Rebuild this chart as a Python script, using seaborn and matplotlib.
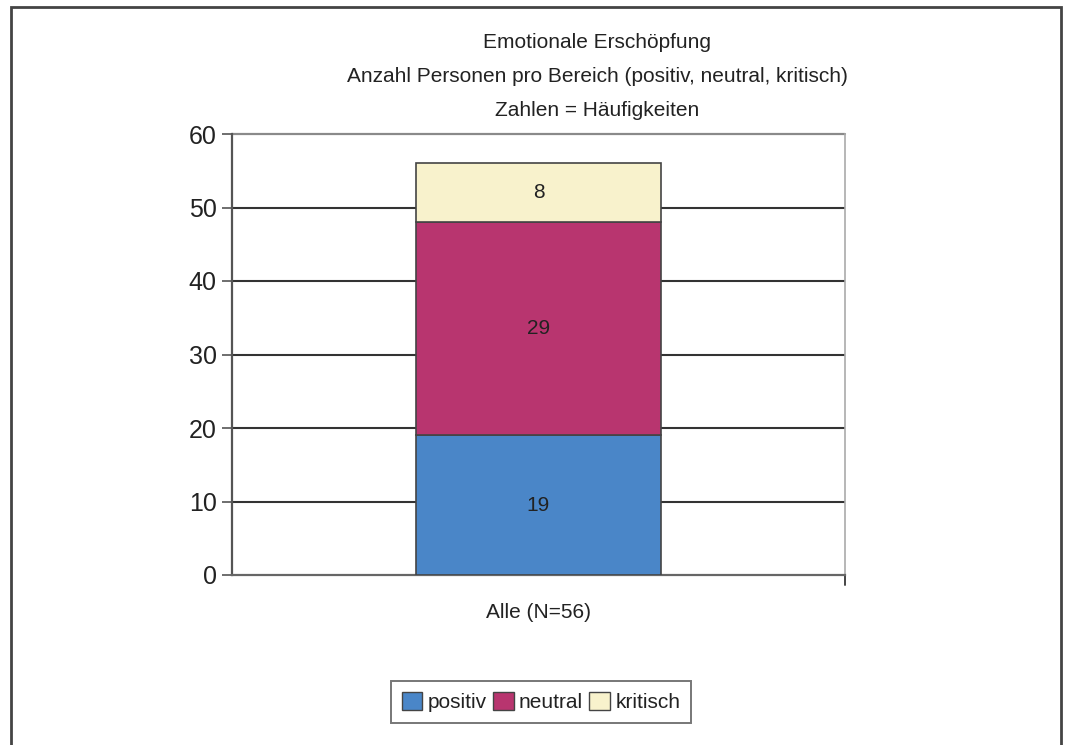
import matplotlib
matplotlib.use("Agg")
import matplotlib.pyplot as plt
import seaborn as sns
import pandas as pd
from matplotlib.patches import Rectangle, Patch

categories = ["Alle (N=56)"]
series = ["positiv", "neutral", "kritisch"]
positiv = [19]
neutral = [29]
kritisch = [8]
colors = ["#4a86c8", "#b8356f", "#f8f2cc"]
title_lines = ["Emotionale Erschöpfung",
               "Anzahl Personen pro Bereich (positiv, neutral, kritisch)",
               "Zahlen = Häufigkeiten"]

sns.set_theme(style="white")
plt.rcParams['font.family'] = ['Liberation Sans', 'DejaVu Sans']

fig = plt.figure(figsize=(10.68, 7.45), dpi=100)
ax = fig.add_axes([232/1068, 1-575/745, (845-232)/1068, (575-134)/745])

values = [positiv, neutral, kritisch]
bottom = [0]*len(categories)
for name, vals, col in zip(series, values, colors):
    bars = ax.bar(categories, vals, bottom=bottom, width=0.4, color=col,
                  edgecolor="#444444", linewidth=1.2, zorder=3, label=name)
    for b, v, r in zip(bottom, vals, bars):
        ax.text(r.get_x() + r.get_width()/2, b + v/2, str(v), ha="center", va="center",
                fontsize=15, color="#222222", zorder=4)
    bottom = [b + v for b, v in zip(bottom, vals)]

sns.despine(ax=ax, top=True, right=False)
ax.set_xlim(-0.5, 0.5)
ax.set_ylim(0, 60)
ax.set_yticks(range(0, 61, 10))
ax.yaxis.grid(False)
for yv in range(10, 60, 10):
    ax.axhline(yv, color="#333333", linewidth=1.5, zorder=1)
ax.axhline(60, color="#8a8a8a", linewidth=1.6, zorder=1, clip_on=False)
ax.tick_params(axis="y", which="both", left=True, length=7, width=1.2, color="#555555",
               labelsize=18, pad=4, labelcolor="#222222")
ax.tick_params(axis="x", bottom=False, labelsize=15, pad=14, labelcolor="#222222")
ax.spines["left"].set_color("#555555")
ax.spines["left"].set_linewidth(1.6)
ax.spines["bottom"].set_color("#666666")
ax.spines["bottom"].set_linewidth(1.6)
ax.spines["right"].set_color("#aaaaaa")
ax.spines["right"].set_linewidth(1.2)
ax.set_xlabel("")
ax.set_ylabel("")
ax.plot([1, 1], [0, -0.022], transform=ax.transAxes, color="#444444", lw=1.4, clip_on=False)

for i, line in enumerate(title_lines):
    fig.text(597/1068, 1 - (42 + i*34.5)/745, line, ha="center", va="center",
             fontsize=15, color="#222222")

handles = [Patch(facecolor=c, edgecolor="#444444", linewidth=1.0, label=s) for s, c in zip(series, colors)]
leg = fig.legend(handles=handles, loc="center", bbox_to_anchor=(541/1068, 1-702/745), ncol=3,
                 fontsize=15, frameon=True, fancybox=False, handlelength=1.0, handleheight=1.0,
                 handletextpad=0.25, columnspacing=0.3, borderpad=0.5, borderaxespad=0)
leg.get_frame().set_edgecolor("#555555")
leg.get_frame().set_linewidth(1.4)
for t in leg.get_texts():
    t.set_color("#222222")

fig.patches.append(Rectangle((11/1068, -0.05), (1061-11)/1068, 1.05 - 7/745, transform=fig.transFigure,
                             fill=False, edgecolor="#444444", linewidth=2))

fig.savefig("out.png", dpi=100)
